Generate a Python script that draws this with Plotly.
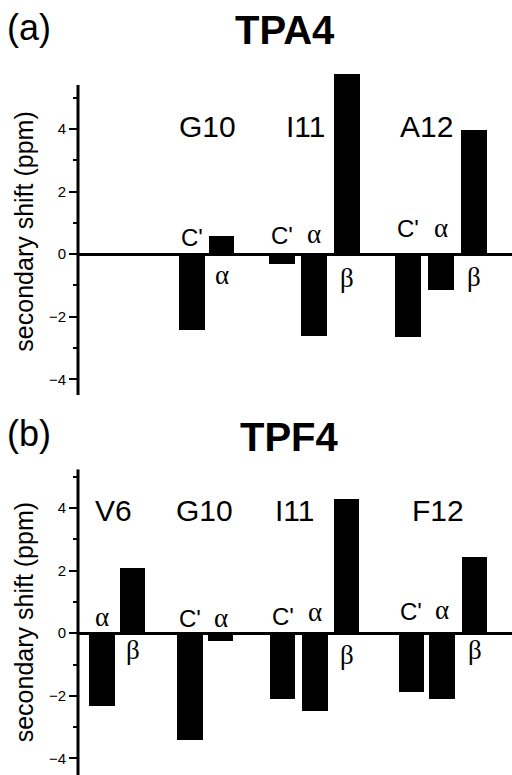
import plotly.graph_objects as go

# ---------------- data ----------------
# Panel (a) TPA4
a_residues = ["G10", "I11", "A12"]
a_residue_pos = [3.91, 6.88, 10.55]
a_atoms = ["C'", "α", "C'", "α", "β", "C'", "α", "β"]
a_pos = [3.45, 4.35, 6.18, 7.15, 8.15, 10.0, 11.0, 12.0]
a_shift = [-2.41, 0.58, -0.33, -2.61, 5.77, -2.66, -1.16, 3.98]

# Panel (b) TPF4
b_residues = ["V6", "G10", "I11", "F12"]
b_residue_pos = [1.09, 3.82, 6.55, 10.91]
b_atoms = ["α", "β", "C'", "α", "C'", "α", "β", "C'", "α", "β"]
b_pos = [0.73, 1.66, 3.39, 4.32, 6.2, 7.18, 8.14, 10.1, 11.03, 12.02]
b_shift = [-2.32, 2.10, -3.41, -0.25, -2.10, -2.47, 4.29, -1.89, -2.11, 2.44]

# label placement (layout, not data)
a_atom_label_y = [0.53, -0.65, 0.58, 0.63, -0.76, 0.83, 0.84, -0.73]
b_atom_label_y = [0.53, -0.54, 0.46, 0.49, 0.52, 0.69, -0.70, 0.68, 0.73, -0.54]
a_res_label_y = 4.09
b_res_label_y = 3.91

a_axis_span = [-4.5, 5.4]
b_axis_span = [-4.53, 5.24]

FONT = "Liberation Sans, Arial, Helvetica, sans-serif"
GREEK_FONT = "Liberation Serif, Times New Roman, serif"
BAR_W = 0.77


def atom_font(lab):
    if lab in ("α", "β"):
        return dict(size=27, family=GREEK_FONT, color="black")
    return dict(size=24, family=FONT, color="black")


fig = go.Figure()
fig.add_trace(go.Bar(x=a_pos, y=a_shift, width=BAR_W, marker=dict(color="black", line=dict(width=0)),
                     xaxis="x", yaxis="y", hoverinfo="skip"))
fig.add_trace(go.Bar(x=b_pos, y=b_shift, width=BAR_W, marker=dict(color="black", line=dict(width=0)),
                     xaxis="x2", yaxis="y2", hoverinfo="skip"))

ann = []
for name, xp in zip(a_residues, a_residue_pos):
    ann.append(dict(x=xp, y=a_res_label_y, xref="x", yref="y", text=name, showarrow=False,
                    font=dict(size=30, family=FONT, color="black"), xanchor="center", yanchor="middle"))
for name, xp in zip(b_residues, b_residue_pos):
    ann.append(dict(x=xp, y=b_res_label_y, xref="x2", yref="y2", text=name, showarrow=False,
                    font=dict(size=30, family=FONT, color="black"), xanchor="center", yanchor="middle"))
for lab, xp, yp in zip(a_atoms, a_pos, a_atom_label_y):
    ann.append(dict(x=xp, y=yp, xref="x", yref="y", text=lab, showarrow=False,
                    font=atom_font(lab), xanchor="center", yanchor="middle"))
for lab, xp, yp in zip(b_atoms, b_pos, b_atom_label_y):
    ann.append(dict(x=xp, y=yp, xref="x2", yref="y2", text=lab, showarrow=False,
                    font=atom_font(lab), xanchor="center", yanchor="middle"))

# panel letters and titles
ann.append(dict(x=-0.168, y=0.965, xref="paper", yref="paper", text="(a)", showarrow=False,
                font=dict(size=36, family=FONT, color="black"), xanchor="left", yanchor="middle"))
ann.append(dict(x=0.477, y=0.961, xref="paper", yref="paper", text="<b>TPA4</b>", showarrow=False,
                font=dict(size=40, family=FONT, color="black"), xanchor="center", yanchor="middle"))
ann.append(dict(x=-0.168, y=0.441, xref="paper", yref="paper", text="(b)", showarrow=False,
                font=dict(size=36, family=FONT, color="black"), xanchor="left", yanchor="middle"))
ann.append(dict(x=0.488, y=0.436, xref="paper", yref="paper", text="<b>TPF4</b>", showarrow=False,
                font=dict(size=40, family=FONT, color="black"), xanchor="center", yanchor="middle"))

# vertical axis lines (drawn as shapes so the tall bar may rise above the axis end)
shapes = [
    dict(type="line", xref="paper", yref="y", x0=0, x1=0, y0=a_axis_span[0], y1=a_axis_span[1],
         line=dict(color="black", width=3), layer="above"),
    dict(type="line", xref="paper", yref="y2", x0=0, x1=0, y0=b_axis_span[0], y1=b_axis_span[1],
         line=dict(color="black", width=3), layer="above"),
]

xax = dict(range=[0, 13.15], showgrid=False, zeroline=False, showline=False,
           showticklabels=False, ticks="", fixedrange=True)
yax = dict(showgrid=False, tick0=0, dtick=2, ticks="outside", ticklen=8, tickwidth=2,
           tickcolor="black", showline=False,
           zeroline=True, zerolinecolor="black", zerolinewidth=3,
           tickfont=dict(size=15, family=FONT, color="black"),
           minor=dict(dtick=1, tick0=0, ticks="outside", ticklen=4, tickwidth=2, tickcolor="black"),
           title=dict(text="secondary shift (ppm)", font=dict(size=25, family=FONT, color="black"),
                      standoff=8),
           fixedrange=True)

fig.update_layout(
    width=512, height=775,
    margin=dict(l=78, r=0, t=0, b=0),
    paper_bgcolor="white", plot_bgcolor="white",
    showlegend=False, bargap=0,
    xaxis=dict(**xax, domain=[0, 1], anchor="y"),
    yaxis=dict(**yax, domain=[0.4903, 0.9124], range=[-4.5, 5.95], anchor="x"),
    xaxis2=dict(**xax, domain=[0, 1], anchor="y2"),
    yaxis2=dict(**yax, domain=[0.0, 0.3945], range=[b_axis_span[0], b_axis_span[1]], anchor="x2"),
    annotations=ann,
    shapes=shapes,
)

fig.write_html("out.html", config={"displayModeBar": False, "staticPlot": True},
               post_script="document.body.style.margin='0';")
